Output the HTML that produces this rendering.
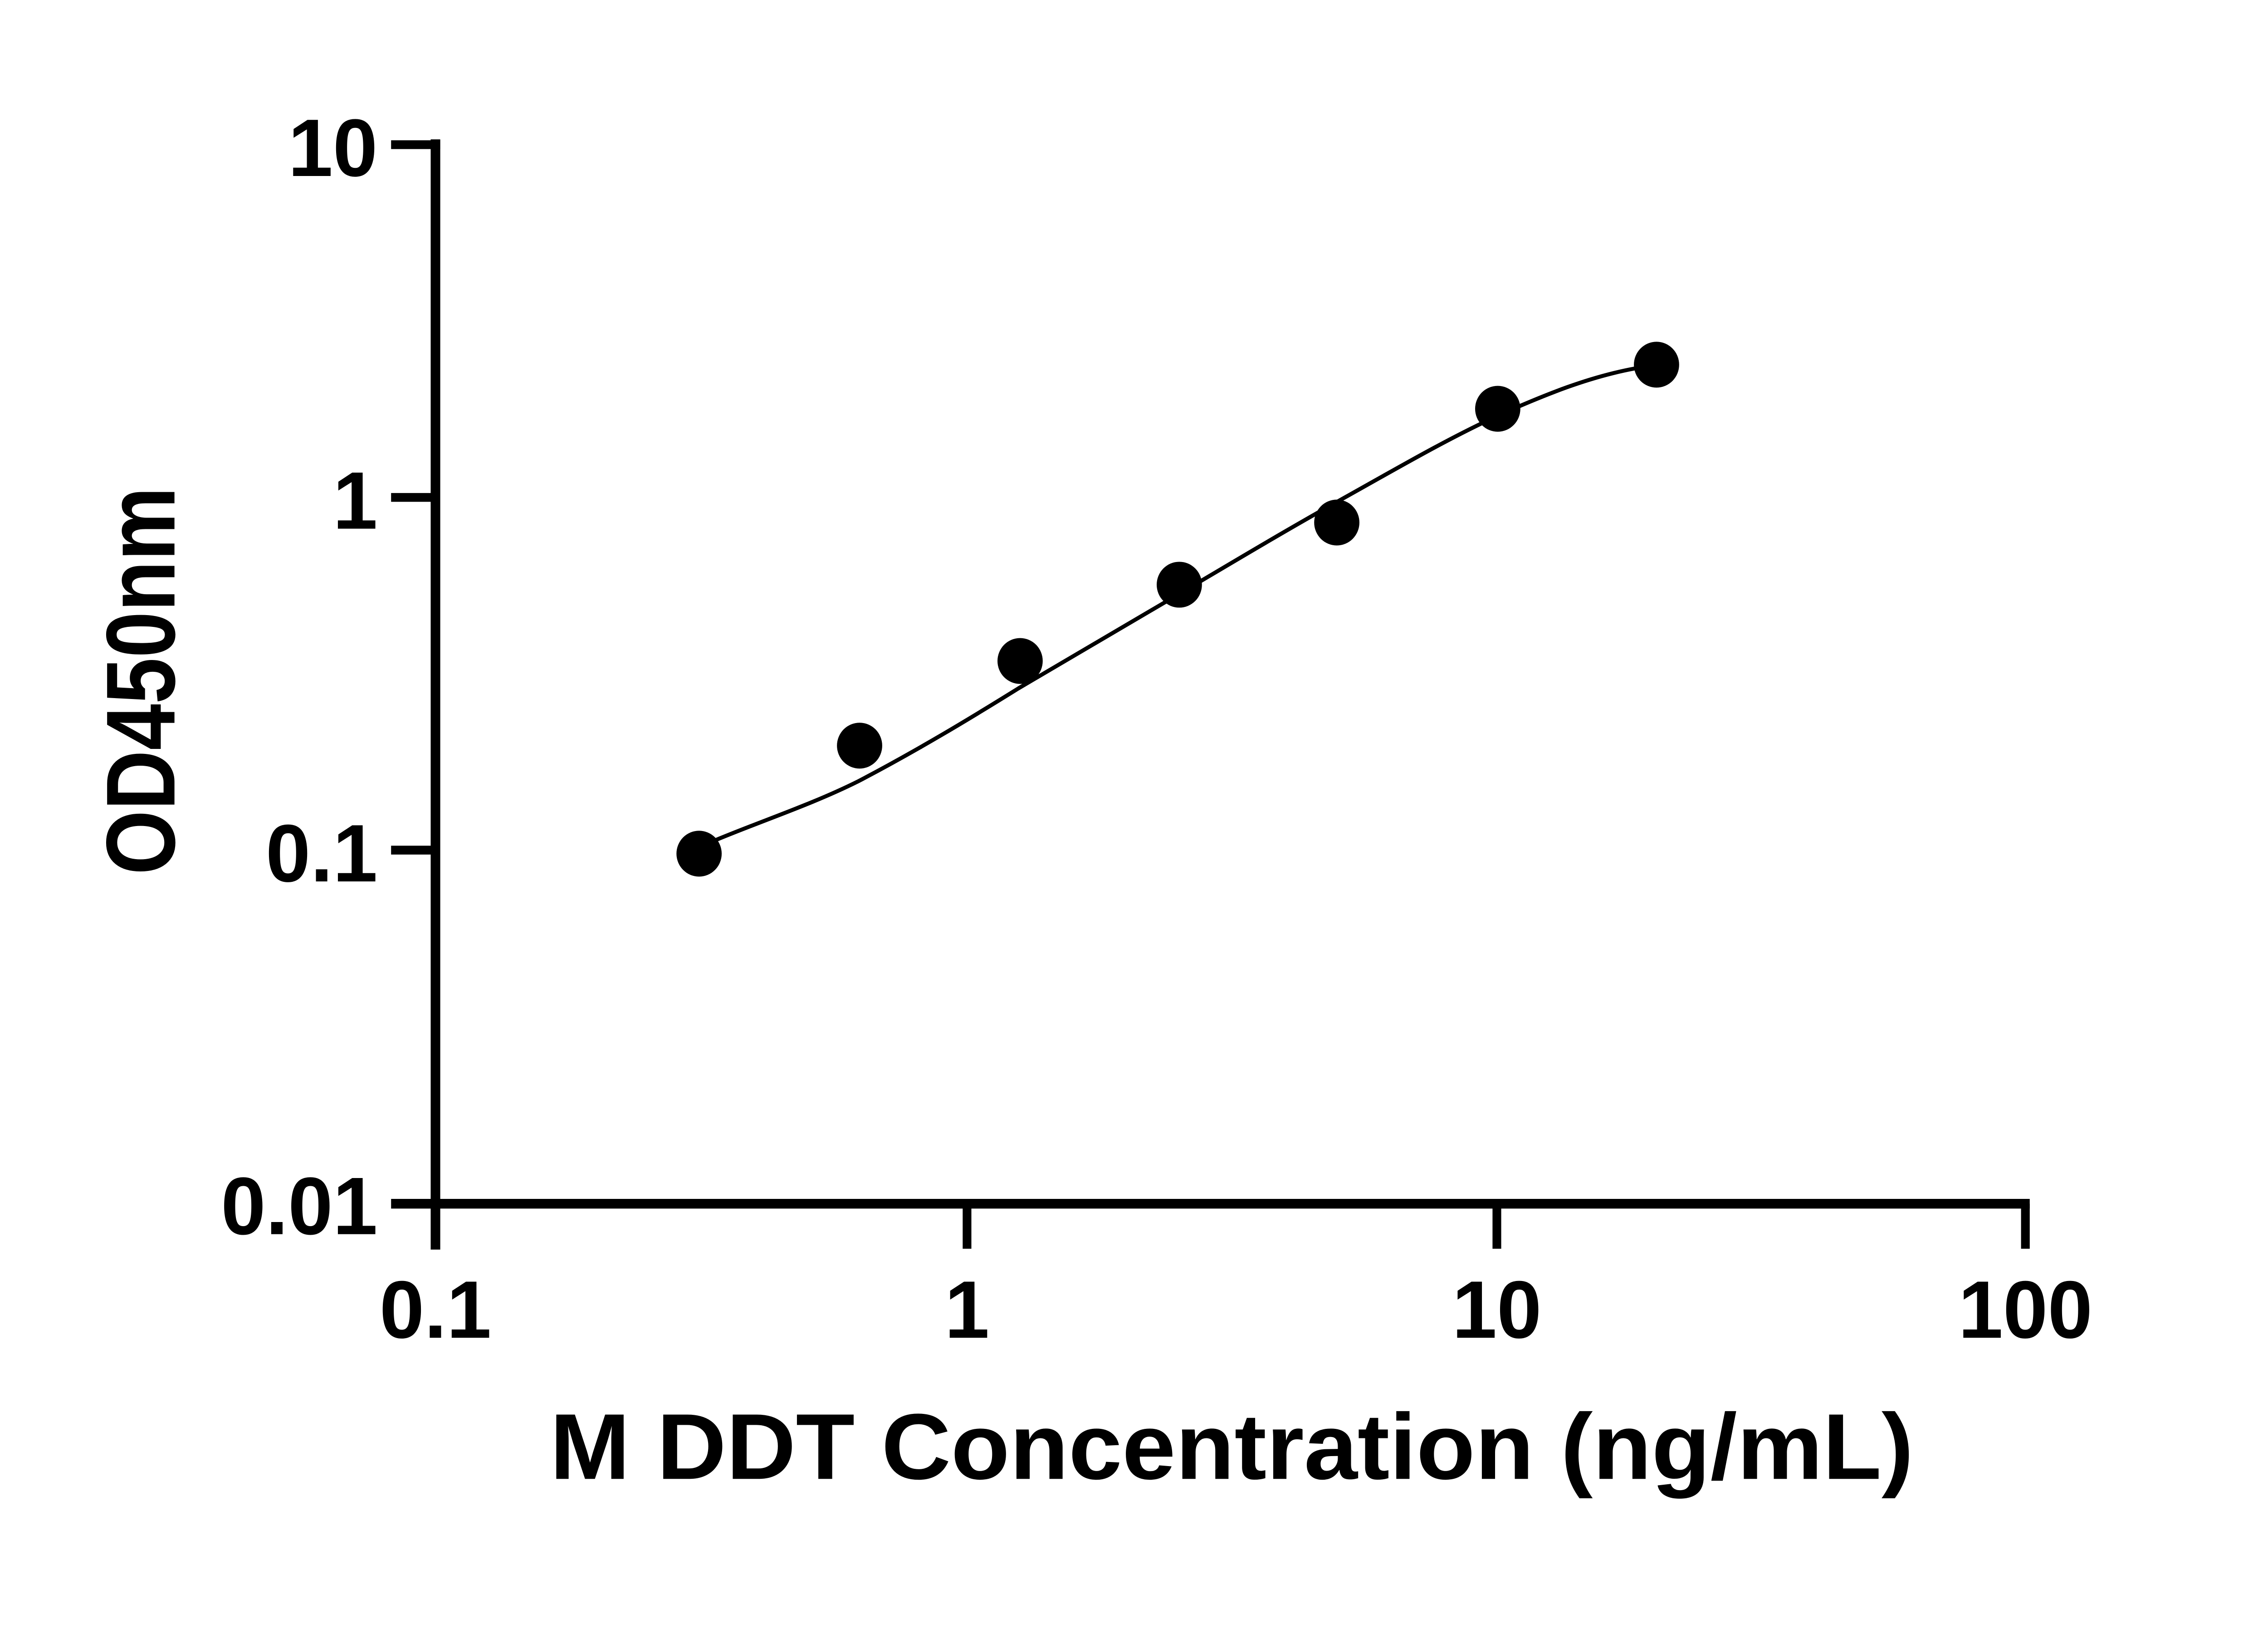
<!DOCTYPE html>
<html><head><meta charset="utf-8"><style>html,body{margin:0;padding:0;background:#fff}svg{display:block}</style></head>
<body>
<svg width="5142" height="3600" viewBox="0 0 5142 3600" xmlns="http://www.w3.org/2000/svg">
<rect width="5142" height="3600" fill="#fff"/>
<g transform="matrix(0.959,0,0,0.972,10.6,-5.7)">
<g stroke="#000" fill="none">
<line x1="990" y1="322" x2="990" y2="2840" stroke-width="22"/>
<line x1="888" y1="2736" x2="4655" y2="2736" stroke-width="22"/>
<line x1="888" y1="334" x2="1001" y2="334" stroke-width="20"/>
<line x1="888" y1="1134" x2="990" y2="1134" stroke-width="20"/>
<line x1="888" y1="1934" x2="990" y2="1934" stroke-width="20"/>
<line x1="2212" y1="2736" x2="2212" y2="2838" stroke-width="20"/>
<line x1="3430" y1="2736" x2="3430" y2="2838" stroke-width="20"/>
<line x1="4645" y1="2736" x2="4645" y2="2838" stroke-width="20"/>
<path transform="matrix(1.0157,0,0,1,-12.9,0)" d="M1622,1911 C1730,1866 1840,1830 1944,1778 C2070,1712 2190,1640 2307,1567 C2430,1495 2550,1425 2667,1355 C2790,1282 2910,1210 3028,1144 C3150,1076 3270,1005 3391,949 C3500,900 3600,860 3705,841" stroke-width="9" stroke-linecap="round"/>
</g>
<g fill="#000">
<circle cx="1596" cy="1942" r="52"/>
<circle cx="1965" cy="1697" r="52"/>
<circle cx="2334" cy="1505" r="52"/>
<circle cx="2700" cy="1332" r="52"/>
<circle cx="3062" cy="1191" r="52"/>
<circle cx="3432" cy="933" r="52"/>
<circle cx="3797" cy="833" r="52"/>
</g>
<g font-family="Liberation Sans, sans-serif" font-weight="bold" fill="#000" font-size="185">
<text x="857" y="405" text-anchor="end">10</text>
<text x="857" y="1205" text-anchor="end">1</text>
<text x="857" y="2005" text-anchor="end">0.1</text>
<text x="857" y="2805" text-anchor="end">0.01</text>
<text x="990" y="3040" text-anchor="middle">0.1</text>
<text x="2212" y="3040" text-anchor="middle">1</text>
<text x="3430" y="3040" text-anchor="middle">10</text>
<text x="4645" y="3040" text-anchor="middle">100</text>
<text x="1253" y="3360" font-size="212" textLength="3135" lengthAdjust="spacingAndGlyphs">M DDT Concentration (ng/mL)</text>
<text transform="translate(390,1990) rotate(-90)" font-size="225" textLength="880" lengthAdjust="spacingAndGlyphs">OD450nm</text>
</g>
</g>
</svg>
</body></html>
